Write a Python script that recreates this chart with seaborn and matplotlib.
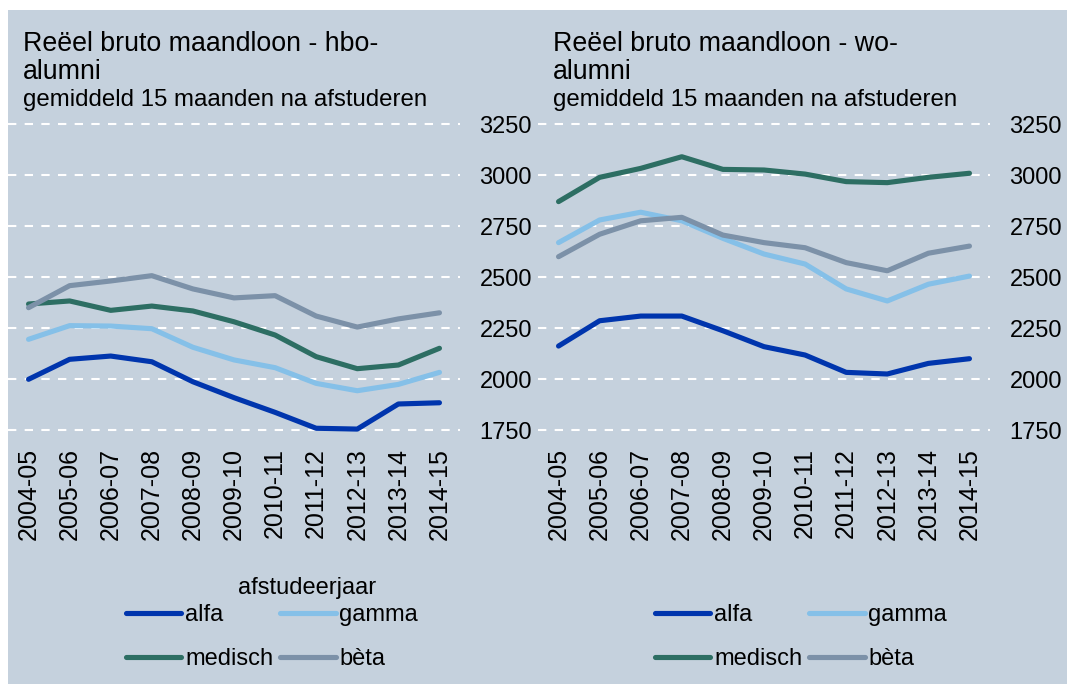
import matplotlib
matplotlib.use("Agg")
import matplotlib.pyplot as plt
import seaborn as sns
import pandas as pd
from matplotlib.patches import Rectangle
from matplotlib.lines import Line2D

years = ["2004-05", "2005-06", "2006-07", "2007-08", "2008-09", "2009-10",
         "2010-11", "2011-12", "2012-13", "2013-14", "2014-15"]
groups = ["alfa", "gamma", "medisch", "bèta"]

hbo_alfa = [2000, 2098, 2114, 2086, 1988, 1910, 1838, 1760, 1756, 1879, 1885]
hbo_gamma = [2196, 2263, 2261, 2248, 2157, 2095, 2057, 1980, 1944, 1975, 2034]
hbo_medisch = [2369, 2384, 2338, 2359, 2335, 2282, 2217, 2111, 2052, 2070, 2152]
hbo_beta = [2351, 2459, 2482, 2508, 2443, 2399, 2410, 2310, 2256, 2296, 2326]

wo_alfa = [2163, 2287, 2310, 2310, 2238, 2160, 2119, 2034, 2026, 2078, 2101]
wo_gamma = [2670, 2781, 2819, 2777, 2691, 2614, 2565, 2443, 2384, 2466, 2506]
wo_medisch = [2871, 2990, 3034, 3091, 3029, 3026, 3006, 2969, 2964, 2990, 3010]
wo_beta = [2601, 2711, 2777, 2794, 2707, 2670, 2645, 2572, 2532, 2618, 2653]

yticks = [1750, 2000, 2250, 2500, 2750, 3000, 3250]

title_hbo = ["Reëel bruto maandloon - hbo-", "alumni"]
title_wo = ["Reëel bruto maandloon - wo-", "alumni"]
subtitle = "gemiddeld 15 maanden na afstuderen"
legend_title = "afstudeerjaar"

colors = {"alfa": "#0035ad", "gamma": "#85c0e8", "medisch": "#2d6e63", "bèta": "#7c91a8"}
BG = "#c5d1dd"

def long_df(a, g, m, b):
    rows = []
    for name, vals in zip(groups, [a, g, m, b]):
        for yr, v in zip(years, vals):
            rows.append({"jaar": yr, "groep": name, "loon": v})
    return pd.DataFrame(rows)

df_hbo = long_df(hbo_alfa, hbo_gamma, hbo_medisch, hbo_beta)
df_wo = long_df(wo_alfa, wo_gamma, wo_medisch, wo_beta)

sns.set_theme(style="white")
plt.rcParams["font.family"] = ["Liberation Sans", "DejaVu Sans"]
plt.rcParams["text.color"] = "black"

W, H = 1067, 684
fig = plt.figure(figsize=(W / 100, H / 100), dpi=100)
fig.patch.set_facecolor("white")
fig.patches.append(Rectangle((8 / W, 0), 1 - 8 / W, 1 - 10 / H, transform=fig.transFigure,
                             facecolor=BG, edgecolor="none", zorder=-10))

def px_ax(x0, x1, ytop, ybot):
    return [x0 / W, 1 - ybot / H, (x1 - x0) / W, (ybot - ytop) / H]

ylo, yhi = 1725, 3275
ppu = 51 / 250.0
ytop_px = 124.3 - (yhi - 3250) * ppu
ybot_px = 430.3 + (1750 - ylo) * ppu

ax1 = fig.add_axes(px_ax(8, 460, ytop_px, ybot_px))
ax2 = fig.add_axes(px_ax(538, 990, ytop_px, ybot_px))

for ax, df, ttl, tx in [(ax1, df_hbo, title_hbo, 23), (ax2, df_wo, title_wo, 553)]:
    ax.set_facecolor("none")
    sns.lineplot(data=df, x="jaar", y="loon", hue="groep", palette=colors,
                 hue_order=groups, linewidth=3.7, ax=ax, legend=False,
                 solid_capstyle="round", sort=False)
    ax.set_xlim(-0.5, 10.5)
    ax.set_ylim(ylo, yhi)
    ax.set_yticks(yticks)
    ax.set_yticklabels([str(t) for t in yticks], fontsize=17, color="black")
    ax.yaxis.tick_right()
    ax.tick_params(axis="y", length=0, pad=14)
    for lbl in ax.get_yticklabels():
        lbl.set_horizontalalignment("left")
    ax.set_xticks(range(len(years)))
    ax.set_xticklabels(years, rotation=90, fontsize=18, color="black")
    ax.tick_params(axis="x", length=0, pad=9)
    ax.set_xlabel("")
    ax.set_ylabel("")
    ax.grid(axis="y", color="white", linestyle=(0, (4, 4)), linewidth=1.5)
    ax.grid(axis="x", visible=False)
    for s in ax.spines.values():
        s.set_visible(False)
    fig.text(tx / W, 1 - 51 / H, ttl[0], fontsize=19.3, ha="left", va="baseline")
    fig.text(tx / W, 1 - 79 / H, ttl[1], fontsize=19.3, ha="left", va="baseline")
    fig.text(tx / W, 1 - 106 / H, subtitle, fontsize=17.3, ha="left", va="baseline")

order = ["alfa", "medisch", "gamma", "bèta"]
handles = [Line2D([0], [0], color=colors[g], linewidth=3.7, solid_capstyle="round") for g in order]

for x0 in [126, 655]:
    fig.legend(handles, order, loc="upper left", bbox_to_anchor=(x0 / W, 1 - 604 / H),
               ncol=2, frameon=False, fontsize=17, borderpad=0, borderaxespad=0,
               handlelength=2.35, handletextpad=0.15, columnspacing=0.3,
               labelspacing=0.95)

fig.text(307 / W, 1 - 594 / H, legend_title, fontsize=17, ha="center", va="baseline")

fig.savefig("out.png", dpi=100)
